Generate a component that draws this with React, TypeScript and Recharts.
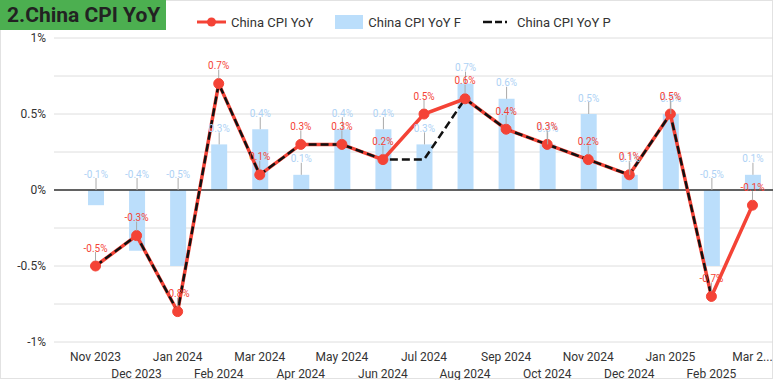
import React from "react";
import {
  ComposedChart,
  Bar,
  Line,
  XAxis,
  YAxis,
  CartesianGrid,
  ReferenceLine,
  LabelList,
} from "recharts";

const months = [
  "Nov 2023", "Dec 2023", "Jan 2024", "Feb 2024", "Mar 2024", "Apr 2024",
  "May 2024", "Jun 2024", "Jul 2024", "Aug 2024", "Sep 2024", "Oct 2024",
  "Nov 2024", "Dec 2024", "Jan 2025", "Feb 2025", "Mar 2025",
];
const actual = [-0.5, -0.3, -0.8, 0.7, 0.1, 0.3, 0.3, 0.2, 0.5, 0.6, 0.4, 0.3, 0.2, 0.1, 0.5, -0.7, -0.1];
const forecast = [-0.1, -0.4, -0.5, 0.3, 0.4, 0.1, 0.4, 0.4, 0.3, 0.7, 0.6, 0.3, 0.5, 0.1, 0.5, -0.5, 0.1];
const previous = [-0.5, -0.3, -0.8, 0.7, 0.1, 0.3, 0.3, 0.2, 0.2, 0.6, 0.4, 0.3, 0.2, 0.1, 0.5, -0.7, null];
const yTicks = [-1, -0.75, -0.5, -0.25, 0, 0.25, 0.5, 0.75, 1];

const data = months.map((m, i) => ({
  month: m,
  actual: actual[i],
  forecast: forecast[i],
  previous: previous[i],
}));

const RED = "#F44336";
const BLUE = "#BBDEFB";
const BLUE_TEXT = "#AED2F5";
const FONT = "Roboto, sans-serif";

const fmt = (v: number) => `${v}%`;

function BarLabel(props: any) {
  const { x, y, width, height, value } = props;
  const top = Math.min(y, y + height);
  const cx = x + width / 2;
  return (
    <g>
      <line x1={cx} x2={cx} y1={top} y2={top - 12} stroke="#aaa" strokeWidth={1} />
      <text x={cx} y={top - 16} dy={3.5} textAnchor="middle" fontSize={10} fill={BLUE_TEXT} fontFamily={FONT}>
        {fmt(value)}
      </text>
    </g>
  );
}

function LineLabel(props: any) {
  const { x, y, value } = props;
  return (
    <g>
      <line x1={x} x2={x} y1={y - 5} y2={y - 14} stroke="#aaa" strokeWidth={1} />
      <text x={x} y={y - 18} dy={3.5} textAnchor="middle" fontSize={10} fill={RED} fontFamily={FONT}>
        {fmt(value)}
      </text>
    </g>
  );
}

// alternate the month labels over two rows, like the original
function MonthTick(props: any) {
  const { x, y, payload, index } = props;
  let label: string = payload.value;
  if (index === months.length - 1) label = label.slice(0, 5) + "...";
  const row = index % 2 === 0 ? 15 : 32;
  return (
    <text x={x} y={y + row - 4} textAnchor="middle" fontSize={12} fill="#333" fontFamily={FONT}>
      {label}
    </text>
  );
}

export default function App() {
  return (
    <div style={{ position: "fixed", left: 0, top: 0, width: 773, height: 380, background: "#fff", fontFamily: FONT }}>
      <div style={{ position: "absolute", left: 0, top: 0, width: 771, height: 377, border: "1px solid #e2e2e2" }} />
      <div
        style={{
          position: "absolute", left: 0, top: 0, width: 166, height: 30, background: "#4CAF50",
          color: "#222", fontWeight: 700, fontSize: 21, lineHeight: "30px", paddingLeft: 7, boxSizing: "border-box",
          whiteSpace: "nowrap",
        }}
      >
        2.China CPI YoY
      </div>
      <div style={{ position: "absolute", top: 13, left: 197, display: "flex", alignItems: "center", fontSize: 13, color: "#333", height: 18 }}>
        <svg width={29} height={14}>
          <line x1={0} x2={29} y1={7} y2={7} stroke={RED} strokeWidth={3} />
          <circle cx={14.5} cy={7} r={4.5} fill={RED} />
        </svg>
        <span style={{ marginLeft: 5 }}>China CPI YoY</span>
        <div style={{ width: 28, height: 14, background: BLUE, marginLeft: 22 }} />
        <span style={{ marginLeft: 5 }}>China CPI YoY F</span>
        <svg width={28} height={14} style={{ marginLeft: 22 }}>
          <line x1={0} x2={28} y1={7} y2={7} stroke="#111" strokeWidth={2.5} strokeDasharray="9 3 7 3 2 30" />
        </svg>
        <span style={{ marginLeft: 6 }}>China CPI YoY P</span>
      </div>
      <ComposedChart width={773} height={380} data={data} margin={{ top: 38, right: 0, bottom: 0, left: 0 }}>
        <CartesianGrid vertical={false} stroke="#dedede" />
        <XAxis
          dataKey="month"
          interval={0}
          height={38}
          axisLine={false}
          tickLine={false}
          padding={{ left: 21, right: 0 }}
          tick={<MonthTick />}
        />
        <YAxis
          type="number"
          domain={[-1, 1]}
          ticks={yTicks}
          width={54}
          axisLine={false}
          tickLine={false}
          tick={{ fontSize: 12, fill: "#333", fontFamily: FONT }}
          tickFormatter={(v: number) => (Math.abs(v * 100) % 50 === 0 ? fmt(v) : "")}
        />
        <ReferenceLine y={0} stroke="#333" strokeWidth={1.5} />
        <Bar dataKey="forecast" fill={BLUE} barSize={16} isAnimationActive={false}>
          <LabelList dataKey="forecast" content={<BarLabel />} />
        </Bar>
        <Line
          dataKey="actual"
          stroke={RED}
          strokeWidth={3.5}
          dot={{ r: 5, fill: RED, stroke: RED, strokeWidth: 1 }}
          activeDot={false}
          isAnimationActive={false}
        >
          <LabelList dataKey="actual" content={<LineLabel />} />
        </Line>
        <Line
          dataKey="previous"
          stroke="#111"
          strokeWidth={2.5}
          strokeDasharray="8 4"
          dot={false}
          activeDot={false}
          isAnimationActive={false}
        />
      </ComposedChart>
    </div>
  );
}
